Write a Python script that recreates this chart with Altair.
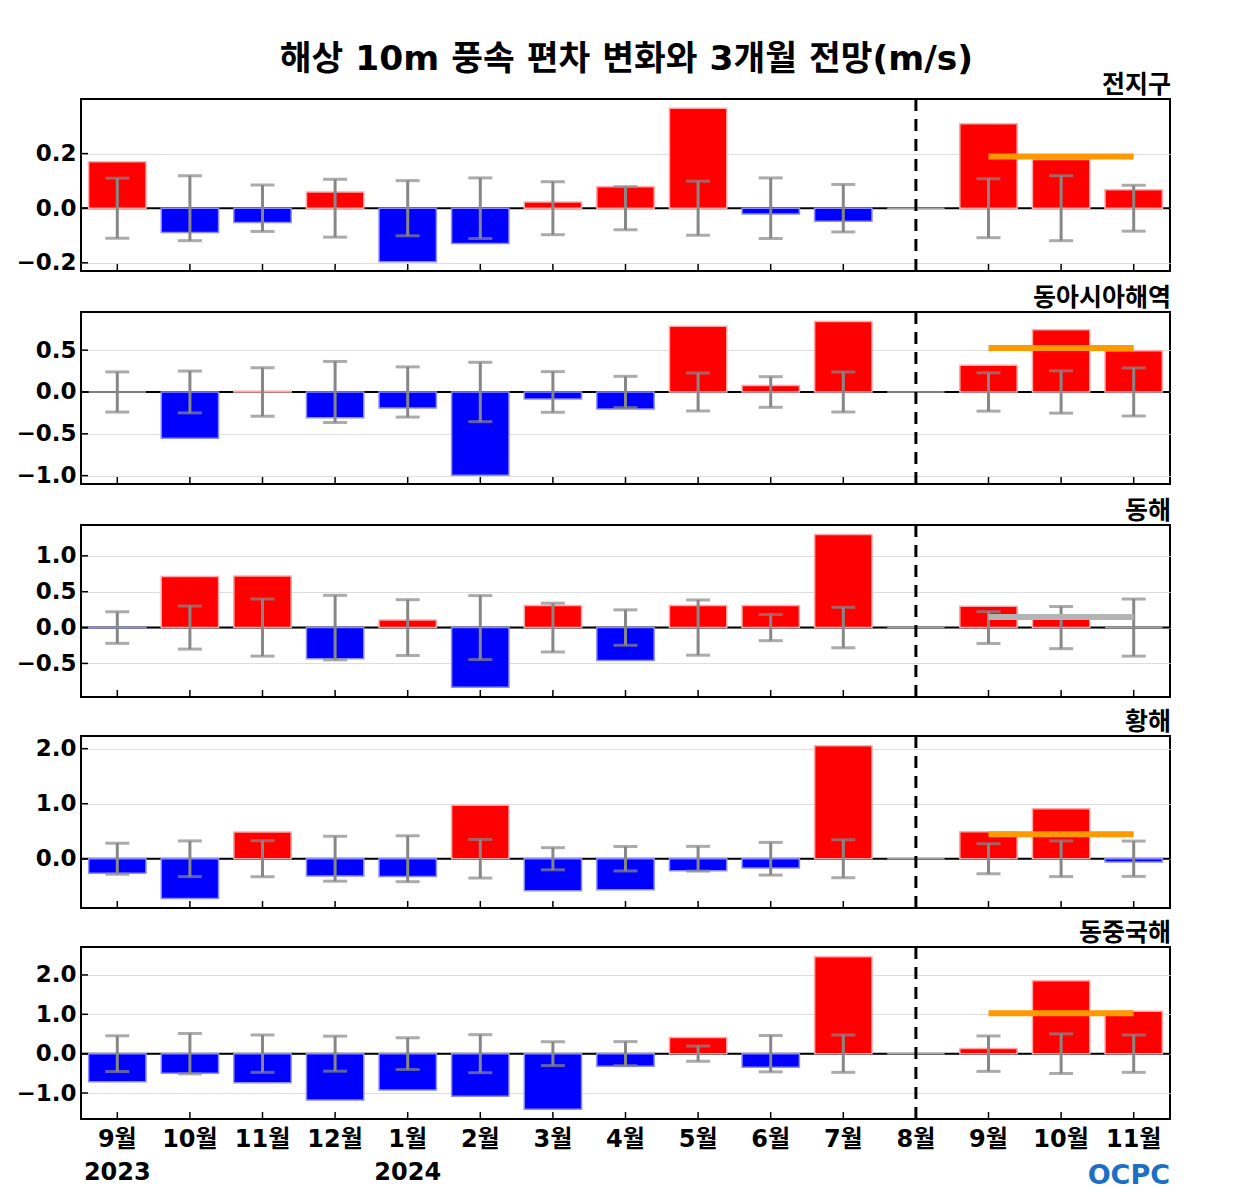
import altair as alt
import pandas as pd

# ---- data -------------------------------------------------------------
month_labels = ["9월", "10월", "11월", "12월", "1월", "2월", "3월", "4월",
                "5월", "6월", "7월", "8월", "9월", "10월", "11월"]
year_labels = ["2023", "", "", "", "2024", "", "", "", "", "", "", "", "", "", ""]

region_names = ["전지구", "동아시아해역", "동해", "황해", "동중국해"]

global_vals = [0.170, -0.089, -0.052, 0.059, -0.196, -0.129, 0.023, 0.079,
               0.366, -0.021, -0.048, 0.0, 0.309, 0.178, 0.068]
global_std = [0.110, 0.119, 0.085, 0.106, 0.101, 0.111, 0.097, 0.079,
              0.099, 0.111, 0.087, None, 0.108, 0.119, 0.084]

eastasia_vals = [0.0, -0.554, 0.01, -0.307, -0.191, -0.996, -0.084, -0.203,
                 0.785, 0.076, 0.841, 0.0, 0.319, 0.745, 0.494]
eastasia_std = [0.24, 0.25, 0.29, 0.365, 0.30, 0.355, 0.243, 0.187,
                0.227, 0.183, 0.239, None, 0.229, 0.253, 0.287]

eastsea_vals = [-0.004, 0.713, 0.718, -0.435, 0.106, -0.833, 0.306, -0.458,
                0.306, 0.306, 1.296, 0.0, 0.296, 0.12, 0.0]
eastsea_std = [0.22, 0.30, 0.398, 0.45, 0.389, 0.446, 0.34, 0.247,
               0.385, 0.183, 0.282, None, 0.222, 0.294, 0.398]

yellow_vals = [-0.264, -0.721, 0.486, -0.312, -0.324, 0.973, -0.583, -0.565,
               -0.216, -0.168, 2.054, 0.0, 0.492, 0.907, -0.06]
yellow_std = [0.282, 0.324, 0.327, 0.408, 0.417, 0.351, 0.201, 0.222,
              0.225, 0.297, 0.345, None, 0.273, 0.324, 0.321]

ecs_vals = [-0.714, -0.496, -0.739, -1.176, -0.924, -1.084, -1.412, -0.319,
            0.412, -0.345, 2.46, 0.0, 0.134, 1.85, 1.076]
ecs_std = [0.454, 0.513, 0.475, 0.445, 0.403, 0.483, 0.303, 0.306,
           0.193, 0.462, 0.475, None, 0.45, 0.504, 0.475]

forecast_line = [0.189, 0.526, 0.148, 0.444, 1.025]
forecast_color = ["#ff9900", "#ff9900", "#b4b4b4", "#ff9900", "#ff9900"]

y_domains = [[-0.23, 0.40], [-1.10, 0.956], [-0.968, 1.43], [-0.895, 2.23], [-1.66, 2.71]]
y_ticks = [[-0.2, 0.0, 0.2], [-1.0, -0.5, 0.0, 0.5], [-0.5, 0.0, 0.5, 1.0],
           [0.0, 1.0, 2.0], [-1.0, 0.0, 1.0, 2.0]]

all_vals = [global_vals, eastasia_vals, eastsea_vals, yellow_vals, ecs_vals]
all_std = [global_std, eastasia_std, eastsea_std, yellow_std, ecs_std]

current_idx = 11   # 8월 (last observed month)
fc_start, fc_end = 12, 14
logo_text = ["OCPC"]

W, H = 1089, 172
FONT = "DejaVu Sans, Noto Sans CJK KR"

label_arr = "[" + ",".join(
    "[" + ",".join("'" + s + "'" for s in ([m, y] if y else [m])) + "]"
    for m, y in zip(month_labels, year_labels)) + "]"


def panel(i):
    vals = all_vals[i]
    std = all_std[i]
    df = pd.DataFrame({
        "idx": list(range(len(vals))),
        "val": vals,
        "sign": ["pos" if v > 0 else ("neg" if v < 0 else "zero") for v in vals],
    })
    err = pd.DataFrame({
        "idx": [k for k, s in enumerate(std) if s is not None],
        "lo": [-s for s in std if s is not None],
        "hi": [s for s in std if s is not None],
    })
    last = (i == len(all_vals) - 1)
    xscale = alt.Scale(domain=list(range(len(vals))), paddingInner=0.21, paddingOuter=0.105)
    if last:
        xaxis = alt.Axis(title=None, labelExpr=label_arr + "[datum.value]", labelAngle=0,
                         labelFont=FONT, labelFontSize=24, labelFontWeight="bold",
                         labelColor="black", labelLineHeight=33, labelPadding=8,
                         ticks=False, domain=False, grid=False, labelBaseline="top")
    else:
        xaxis = None
    yscale = alt.Scale(domain=y_domains[i], nice=False, zero=False)
    yaxis = alt.Axis(title=None, values=y_ticks[i], format=".1f", labelFont=FONT,
                     labelFontSize=23, labelFontWeight="bold", labelColor="black",
                     ticks=False, domain=False, grid=True, gridColor="#dddddd",
                     gridWidth=1.2, labelPadding=5)

    x = alt.X("idx:O", scale=xscale, axis=xaxis)

    base = alt.Chart(df)

    zero = base.mark_rule(color="black", strokeWidth=2).encode(
        y=alt.datum(0, scale=yscale, axis=yaxis)
    ).transform_filter("datum.idx == 0")

    bars = base.mark_bar(strokeWidth=1.5).encode(
        x=x,
        y=alt.Y("val:Q", scale=yscale, axis=yaxis),
        y2=alt.datum(0),
        color=alt.Color("sign:N", legend=None,
                        scale=alt.Scale(domain=["pos", "neg", "zero"],
                                        range=["#ff0000", "#0000ff", "#ffffff"])),
        stroke=alt.Stroke("sign:N", legend=None,
                          scale=alt.Scale(domain=["pos", "neg", "zero"],
                                          range=["#ffa8a8", "#8c8cff", "#a8a8a8"])),
    )

    ebase = alt.Chart(err)
    ev = ebase.mark_rule(color="#878787", strokeWidth=3).encode(
        x=x, y=alt.Y("lo:Q", scale=yscale, axis=yaxis), y2="hi:Q")
    elo = ebase.mark_tick(color="#878787", thickness=3, size=24).encode(
        x=x, y=alt.Y("lo:Q", scale=yscale, axis=yaxis))
    ehi = ebase.mark_tick(color="#878787", thickness=3, size=24).encode(
        x=x, y=alt.Y("hi:Q", scale=yscale, axis=yaxis))

    fdf = pd.DataFrame({"a": [fc_start], "b": [fc_end], "v": [forecast_line[i]]})
    fline = alt.Chart(fdf).mark_rule(color=forecast_color[i], strokeWidth=6).encode(
        x=alt.X("a:O", scale=xscale, axis=xaxis), x2="b:O",
        y=alt.Y("v:Q", scale=yscale, axis=yaxis))

    # inside ticks along bottom
    bt = base.mark_rule(color="black", strokeWidth=1.5).encode(
        x=x, y=alt.value(H), y2=alt.value(H - 7))
    # inside ticks on left
    tdf = pd.DataFrame({"t": y_ticks[i]})
    lt = alt.Chart(tdf).mark_rule(color="black", strokeWidth=1.5).encode(
        y=alt.Y("t:Q", scale=yscale, axis=yaxis), x=alt.value(0), x2=alt.value(7))

    cdf = pd.DataFrame({"c": [current_idx]})
    dash = alt.Chart(cdf).mark_rule(color="black", strokeWidth=3, strokeDash=[12, 8]).encode(
        x=alt.X("c:O", scale=xscale, axis=xaxis), y=alt.value(0), y2=alt.value(H))

    layers = [zero, bars, ev, elo, ehi, fline, bt, lt, dash]
    if last:
        ldf = pd.DataFrame({"t": logo_text})
        logo = alt.Chart(ldf).mark_text(
            align="right", baseline="middle", font="DejaVu Sans", fontSize=27,
            fontWeight="bold", color="#1c6fc4"
        ).encode(text="t:N", x=alt.value(W), y=alt.value(H + 57))
        layers.append(logo)

    layer = alt.layer(*layers).properties(
        width=W, height=H,
        title=alt.TitleParams(region_names[i], anchor="end", font=FONT, fontSize=25,
                              fontWeight="bold", color="black", offset=0),
    ).resolve_scale(y="shared", x="shared")
    return layer


charts = [panel(i) for i in range(len(all_vals))]

chart = alt.vconcat(*charts, spacing=8).properties(
    title=alt.TitleParams("해상 10m 풍속 편차 변화와 3개월 전망(m/s)", anchor="middle",
                          font=FONT, fontSize=34.5, fontWeight="bold", color="black",
                          offset=-6, dx=33),
    padding={"left": 6, "top": 34, "right": 5, "bottom": 5},
    background="white",
).configure_view(stroke="black", strokeWidth=2)

chart.save("out.html", embed_options={"renderer": "svg", "actions": False})
